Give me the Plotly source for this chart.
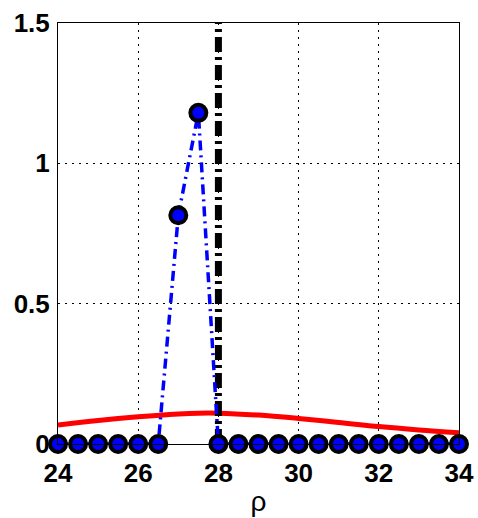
import plotly.graph_objects as go

# data
rho_pts = [24, 24.5, 25, 25.5, 26, 26.5, 27, 27.5, 28, 28.5, 29, 29.5, 30, 30.5,
           31, 31.5, 32, 32.5, 33, 33.5, 34]
val_pts = [0, 0, 0, 0, 0, 0, 0.815, 1.18, 0, 0, 0, 0, 0, 0,
           0, 0, 0, 0, 0, 0, 0]
rho_curve = [24, 25, 26, 27, 27.5, 28, 29, 30, 31, 32, 33, 34]
val_curve = [0.068, 0.084, 0.097, 0.107, 0.110, 0.110, 0.103, 0.091, 0.077, 0.062, 0.050, 0.040]
vline_x = [28, 28]
vline_y = [0, 1.5]
x_ticks = [24, 26, 28, 30, 32, 34]
y_ticks = [0, 0.5, 1, 1.5]
y_tick_text = ["0", "0.5", "1", "1.5"]

fig = go.Figure()
fig.add_trace(go.Scatter(x=rho_curve, y=val_curve, mode="lines",
                         line=dict(color="#ff0000", width=5, shape="spline"),
                         cliponaxis=False, showlegend=False))
fig.add_trace(go.Scatter(x=vline_x, y=vline_y, mode="lines",
                         line=dict(color="black", width=7, dash="15px,5px,3px,5px"),
                         showlegend=False))
fig.add_trace(go.Scatter(x=rho_pts, y=val_pts, mode="lines+markers",
                         line=dict(color="#0000ff", width=3.5, dash="10px,5px,2px,5px"),
                         marker=dict(color="#0000ff", size=16, line=dict(color="black", width=4)),
                         cliponaxis=False, showlegend=False))

axis_font = dict(family="Liberation Sans, Arial, sans-serif", size=26, color="black")
fig.update_layout(
    width=478, height=518,
    margin=dict(l=58, r=19, t=23, b=74, autoexpand=False),
    plot_bgcolor="white", paper_bgcolor="white",
    xaxis=dict(range=[24, 34], tickvals=x_ticks, ticktext=[f"<b>{v}</b>" for v in x_ticks],
               showgrid=True, gridcolor="black", griddash="2px,5px", gridwidth=1,
               showline=True, linecolor="black", linewidth=1, mirror=True,
               zeroline=False, ticks="", tickfont=axis_font, ticklabelstandoff=6,
               automargin=False,
               title=dict(text="ρ", font=dict(family="Liberation Sans, Arial, sans-serif", size=28, color="black"), standoff=4)),
    yaxis=dict(range=[0, 1.5], tickvals=y_ticks, ticktext=[f"<b>{t}</b>" for t in y_tick_text],
               showgrid=True, gridcolor="black", griddash="2px,5px", gridwidth=1,
               showline=True, linecolor="black", linewidth=1, mirror=True,
               zeroline=False, ticks="", tickfont=axis_font, ticklabelstandoff=2,
               automargin=False),
)
fig.write_html("out.html")
